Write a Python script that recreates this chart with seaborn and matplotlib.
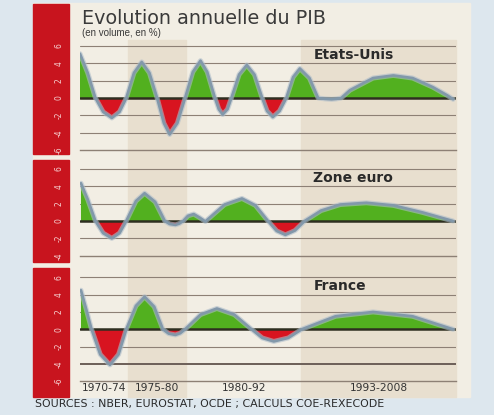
import numpy as np
import pandas as pd
import matplotlib
matplotlib.use("Agg")
import matplotlib.pyplot as plt
import seaborn as sns
from matplotlib.patches import Rectangle

sns.set_style("white")
plt.rcParams['font.family'] = ['DejaVu Sans']

# ---------------- data ----------------
us_years = [1970.0, 1970.8, 1971.6, 1972.4, 1973.3, 1974.1, 1974.8, 1975.6, 1976.4, 1977.2,
            1978.0, 1978.7, 1979.3, 1980.1, 1980.9, 1981.7, 1982.5, 1983.2, 1984.0, 1984.4,
            1984.8, 1985.3, 1985.7, 1986.5, 1987.3, 1988.1, 1988.9, 1989.4, 1990.0, 1990.7,
            1991.4, 1992.1, 1992.8, 1993.8, 1994.7, 1995.4, 1996.1, 1996.6, 1997.1, 1998.0,
            2000.4, 2002.5, 2004.5, 2006.6, 2008.1, 2008.7]
us_values = [5.1, 2.9, 0.0, -1.6, -2.3, -1.6, 0.0, 2.9, 4.15, 2.9,
             0.0, -2.9, -4.2, -2.9, 0.0, 3.0, 4.3, 3.0, 0.0, -1.3,
             -1.9, -1.3, 0.0, 2.7, 3.8, 2.7, 0.0, -1.5, -2.2, -1.5,
             0.0, 2.4, 3.4, 2.3, 0.0, -0.1, -0.15, -0.1, 0.0, 0.9,
             2.3, 2.6, 2.3, 1.25, 0.3, -0.15]

eu_years = [1970.1, 1970.8, 1971.6, 1972.4, 1973.3, 1974.1, 1974.8, 1975.8, 1976.7, 1977.8,
            1978.8, 1979.3, 1979.9, 1980.3, 1980.7, 1981.2, 1981.8, 1982.4, 1983.0, 1985.0,
            1986.8, 1988.2, 1989.5, 1990.4, 1991.3, 1992.3, 1993.3, 1995.0, 1997.0, 1999.7,
            2002.5, 2005.5, 2008.7]
eu_values = [4.35, 2.5, 0.0, -1.4, -2.0, -1.4, 0.0, 2.3, 3.2, 2.2,
             0.0, -0.35, -0.45, -0.3, 0.0, 0.6, 0.8, 0.4, -0.05, 1.9,
             2.6, 1.8, 0.0, -1.15, -1.6, -1.1, 0.0, 1.2, 1.9, 2.1,
             1.8, 1.0, 0.0]

fr_years = [1970.1, 1970.6, 1971.2, 1972.1, 1973.1, 1974.0, 1974.8, 1975.8, 1976.7, 1977.7,
            1978.6, 1979.2, 1979.9, 1980.4, 1980.9, 1982.5, 1984.2, 1986.0, 1987.8, 1988.9,
            1990.1, 1991.6, 1993.0, 1996.5, 2000.4, 2004.5, 2008.7]
fr_values = [4.5, 2.5, 0.0, -2.9, -4.1, -2.9, 0.0, 2.7, 3.75, 2.6,
             0.0, -0.5, -0.65, -0.45, 0.0, 1.7, 2.4, 1.7, 0.0, -1.0,
             -1.4, -1.0, 0.0, 1.5, 2.0, 1.5, 0.0]

panel_names = ["Etats-Unis", "Zone euro", "France"]
period_ticks = [1970, 1975, 1981, 1993, 2009]
period_labels = ["1970-74", "1975-80", "1980-92", "1993-2008"]
y_labels_full = [6, 4, 2, 0, -2, -4, -6]
y_labels_euro = [6, 4, 2, 0, -2, -4]

title = "Evolution annuelle du PIB"
subtitle = "(en volume, en %)"
source = "SOURCES : NBER, EUROSTAT, OCDE ; CALCULS COE-REXECODE"

# ---------------- figure ----------------
W, H = 494, 415
fig = plt.figure(figsize=(W / 100, H / 100), dpi=100)
fig.patch.set_facecolor('#dde7ee')

bg = fig.add_axes([0, 0, 1, 1])
bg.set_xlim(0, W)
bg.set_ylim(H, 0)
bg.axis('off')

CREAM = '#f2eee4'
BAND = '#e8dfcf'
RED = '#c8141e'
GREEN = '#52b01f'
FRED = '#d81420'
LINE = '#8298aa'
GRID = '#8d8075'

bg.add_patch(Rectangle((33, 3), 437, 394, color=CREAM, zorder=0))
for x0, x1 in [(128, 186), (301, 456)]:
    bg.add_patch(Rectangle((x0, 40), x1 - x0, 357, color=BAND, zorder=1))
for y0, y1 in [(4, 154), (160, 262), (268, 397)]:
    bg.add_patch(Rectangle((33, y0), 36, y1 - y0, color=RED, zorder=2))

bg.text(82, 18, title, fontsize=13.8, color='#3a3a3a', va='center', ha='left')
bg.text(82, 33, subtitle, fontsize=7.0, color='#3a3a3a', va='center', ha='left',
        family=['Liberation Sans', 'DejaVu Sans'])
bg.text(35, 404, source, fontsize=7.9, color='#2a2a2a', va='center', ha='left')

PXU = 8.68  # pixels per unit
panels = [
    dict(years=us_years, values=us_values, zero=98.0, ymin=-6.3, axis=-6, grid=[6, 4, 2, -2, -4],
         dark=[], labels=y_labels_full),
    dict(years=eu_years, values=eu_values, zero=221.0, ymin=-4.3, axis=-4, grid=[6, 4, 2, -2],
         dark=[], labels=y_labels_euro),
    dict(years=fr_years, values=fr_values, zero=329.3, ymin=-6.3, axis=-6, grid=[6, 4, 2, -2],
         dark=[-4], labels=y_labels_full),
]
YMAX = 6.6
X0, X1 = 80, 456

for i, p in enumerate(panels):
    top_px = p['zero'] - YMAX * PXU
    bot_px = p['zero'] - p['ymin'] * PXU
    ax = fig.add_axes([X0 / W, 1 - bot_px / H, (X1 - X0) / W, (bot_px - top_px) / H])
    ax.set_facecolor('none')
    ax.set_xlim(1970, 2009)
    ax.set_ylim(p['ymin'], YMAX)
    for s in ['top', 'left', 'right']:
        ax.spines[s].set_visible(False)
    ax.spines['bottom'].set_position(('data', p['axis']))
    ax.spines['bottom'].set_color(GRID)
    ax.spines['bottom'].set_linewidth(1.0)
    ax.set_xticks(period_ticks)
    ax.tick_params(axis='x', direction='in', length=7, width=1.0, color=GRID,
                   labelbottom=False)
    ax.set_yticks([])

    for g in p['grid']:
        ax.axhline(g, color=GRID, lw=0.8, zorder=1)
    for g in p['dark']:
        ax.axhline(g, color='#6c5f58', lw=1.4, zorder=1)

    df = pd.DataFrame({'year': p['years'], 'val': p['values']})
    xv = np.array(p['years'])
    yv = np.array(p['values'])
    ax.fill_between(xv, yv, 0, where=yv >= 0, interpolate=True, color=GREEN, lw=0, zorder=2)
    ax.fill_between(xv, yv, 0, where=yv <= 0, interpolate=True, color=FRED, lw=0, zorder=2)
    ax.axhline(0, color='#2e2e20', lw=1.8, zorder=3)
    sns.lineplot(data=df, x='year', y='val', ax=ax, color='#aebdca', linewidth=3.6,
                 alpha=0.6, sort=False, estimator=None, zorder=4,
                 solid_joinstyle='round', solid_capstyle='round')
    sns.lineplot(data=df, x='year', y='val', ax=ax, color=LINE, linewidth=1.9,
                 sort=False, estimator=None, zorder=5,
                 solid_joinstyle='round', solid_capstyle='round')
    ax.set_xlabel('')
    ax.set_ylabel('')

    ax.text(1994.2, 5.0, panel_names[i], fontsize=10, fontweight='bold', color='#2a2a2a',
            ha='left', va='center', zorder=6)

    if i == 2:
        for k, lab in enumerate(period_labels):
            xm = (period_ticks[k] + period_ticks[k + 1]) / 2
            ax.text(xm, p['axis'] - 0.75, lab, fontsize=7.7, color='#333333',
                    ha='center', va='center', clip_on=False)

    # labels in the red strip
    for v in p['labels']:
        ypx = p['zero'] - v * PXU
        bg.text(59, ypx, str(v), fontsize=5.5, color='#f6d0d0',
                rotation=90, ha='center', va='center', zorder=3)

fig.savefig('out.png', dpi=100, facecolor=fig.get_facecolor())
